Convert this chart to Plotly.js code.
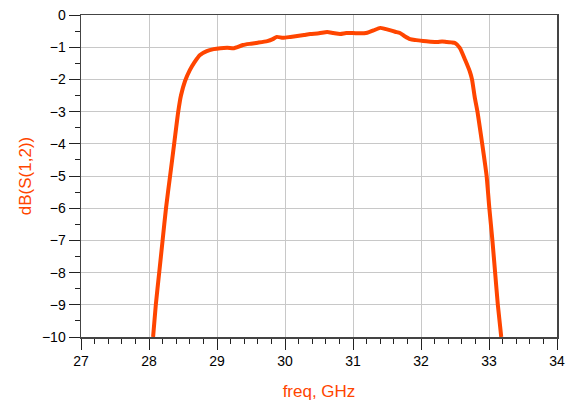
<!DOCTYPE html>
<html>
<head>
<meta charset="utf-8">
<script src="https://cdn.plot.ly/plotly-3.0.1.min.js"></script>
<style>html,body{margin:0;padding:0;background:#fff;}#chart{width:570px;height:406px;}</style>
</head>
<body>
<div id="chart"></div>
<script>
const freqGHz = [28.06,28.10,28.15,28.20,28.25,28.31,28.37,28.43,28.47,28.53,28.60,28.67,28.75,28.85,28.95,29.05,29.15,29.25,29.30,29.38,29.50,29.60,29.74,29.82,29.88,29.97,30.08,30.18,30.28,30.37,30.50,30.62,30.71,30.81,30.90,31.00,31.10,31.21,31.30,31.40,31.47,31.54,31.62,31.69,31.76,31.84,31.93,32.03,32.14,32.24,32.31,32.38,32.45,32.50,32.57,32.65,32.72,32.75,32.79,32.83,32.90,32.94,32.965,33.005,33.05,33.09,33.13,33.18];
const dbS12 = [-10,-9,-8,-7,-6,-5,-4,-3,-2.5,-2.05,-1.71,-1.46,-1.24,-1.12,-1.06,-1.03,-1.02,-1.03,-1.00,-0.93,-0.89,-0.86,-0.81,-0.75,-0.68,-0.71,-0.68,-0.65,-0.62,-0.59,-0.57,-0.53,-0.56,-0.59,-0.56,-0.56,-0.57,-0.55,-0.48,-0.40,-0.43,-0.47,-0.52,-0.56,-0.66,-0.75,-0.78,-0.81,-0.83,-0.84,-0.82,-0.84,-0.85,-0.87,-1.02,-1.40,-1.77,-2.0,-2.55,-3.0,-4.0,-4.6,-5,-6,-7,-8,-9,-10];
const xTitle = 'freq, GHz';
const yTitle = 'dB(S(1,2))';
const accent = '#FF4500';

const trace = {x: freqGHz, y: dbS12, type: 'scatter', mode: 'lines',
  line: {color: accent, width: 4, shape: 'spline', smoothing: 0.6}, hoverinfo: 'skip'};

const tickFont = {family: 'Liberation Sans, Arial, sans-serif', size: 14, color: '#000'};
const layout = {
  width: 570, height: 406,
  margin: {l: 81, r: 13, t: 15, b: 69},
  paper_bgcolor: '#fff', plot_bgcolor: '#fff',
  showlegend: false,
  xaxis: {range: [27, 34], dtick: 1, tick0: 27, showgrid: true, gridcolor: '#c8c8c8', gridwidth: 1,
    showline: true, linecolor: '#444', linewidth: 1.5, mirror: true, zeroline: false,
    ticks: 'outside', ticklen: 11, tickcolor: '#222', tickwidth: 1,
    minor: {dtick: 0.2, ticks: 'outside', ticklen: 5, tickcolor: '#222', showgrid: false},
    tickfont: tickFont,
    title: {text: xTitle, font: {family: 'Liberation Sans, Arial, sans-serif', size: 17, color: accent}, standoff: 17}},
  yaxis: {range: [-10, 0], dtick: 1, showgrid: true, gridcolor: '#c8c8c8', gridwidth: 1,
    showline: true, linecolor: '#444', linewidth: 1.5, mirror: true, zeroline: false,
    ticks: 'outside', ticklen: 11, tickcolor: '#222', tickwidth: 1,
    minor: {dtick: 0.5, ticks: 'outside', ticklen: 5, tickcolor: '#222', showgrid: false},
    tickfont: tickFont,
    title: {text: yTitle, font: {family: 'Liberation Sans, Arial, sans-serif', size: 17, color: accent}, standoff: 6}}
};
Plotly.newPlot('chart', [trace], layout, {staticPlot: true, displayModeBar: false});
</script>
</body>
</html>
